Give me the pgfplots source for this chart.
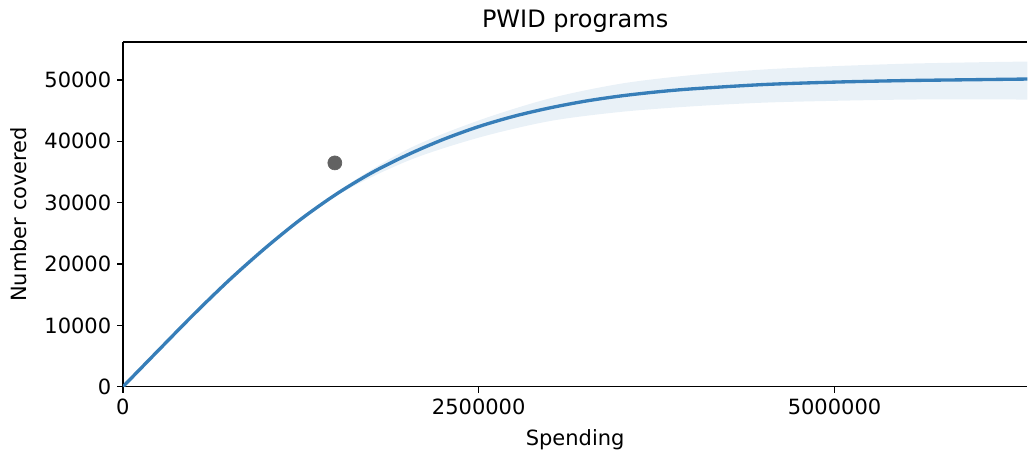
\documentclass[border=0pt]{standalone}
\usepackage{fontspec}
\setmainfont{DejaVu Sans}
\usepackage{pgfplots}
\pgfplotsset{compat=1.18}
\usepgfplotslibrary{fillbetween}
\definecolor{lineblue}{HTML}{377EB8}
\definecolor{dotgray}{HTML}{626262}
\begin{document}
\begin{tikzpicture}[x=0.6pt,y=0.6pt]
\begin{axis}[
  scale only axis, width=543pt, height=207pt,
  xmin=0, xmax=6355000, ymin=0, ymax=56190,
  axis x line=box, axis y line=left,
  axis line style={-, line width=0.8pt, black},
  tick align=outside, xtick pos=bottom, ytick pos=left,
  major tick length=3.5pt,
  every tick/.style={black, line width=0.8pt},
  xtick={0,2500000,5000000},
  ytick={0,10000,20000,30000,40000,50000},
  scaled ticks=false,
  /pgf/number format/fixed, /pgf/number format/1000 sep={},
  /pgf/number format/assume math mode=true,
  tick label style={font=\fontsize{12.6}{15}\selectfont},
  label style={font=\fontsize{12.6}{15}\selectfont},
  xlabel={Spending}, ylabel={Number covered},
  xlabel shift=2.4pt, ylabel shift=3.5pt,
  title={PWID programs},
  title style={font=\fontsize{14.4}{17}\selectfont, yshift=-4pt},
  clip=true,
]
\addplot[name path=upper, draw=none, smooth] coordinates {
(0,0) (500000,11900) (1000000,22800) (1500000,31700) (2000000,38700) (2500000,43400)
(3000000,47000) (3500000,49400) (4000000,50800) (4500000,51700) (5000000,52250)
(5500000,52650) (6000000,52880) (6355000,53000)
};
\addplot[name path=lower, draw=none, smooth] coordinates {
(0,0) (500000,11800) (1000000,22400) (1500000,31100) (2000000,36800) (2500000,40600)
(3000000,43300) (3500000,44800) (4000000,45700) (4500000,46300) (5000000,46600)
(5500000,46800) (6000000,46850) (6355000,46800)
};
\addplot[fill=lineblue, fill opacity=0.11, draw=none] fill between[of=upper and lower];
\addplot[lineblue, line width=2pt, smooth] coordinates {
(0,0) (250000,5950) (500000,11850) (750000,17450) (1000000,22600) (1250000,27300)
(1500000,31400) (1750000,34900) (2000000,37800) (2250000,40300) (2500000,42400)
(2750000,44100) (3000000,45450) (3250000,46550) (3500000,47400) (3750000,48050)
(4000000,48550) (4500000,49250) (5000000,49650) (5500000,49900) (6000000,50050)
(6355000,50150)
};
\addplot[only marks, mark=*, mark size=4.2pt, mark options={draw=dotgray, fill=dotgray}] coordinates {(1489000,36480)};
\end{axis}
\path (-123,-68) rectangle (905,387);
\end{tikzpicture}
\end{document}
